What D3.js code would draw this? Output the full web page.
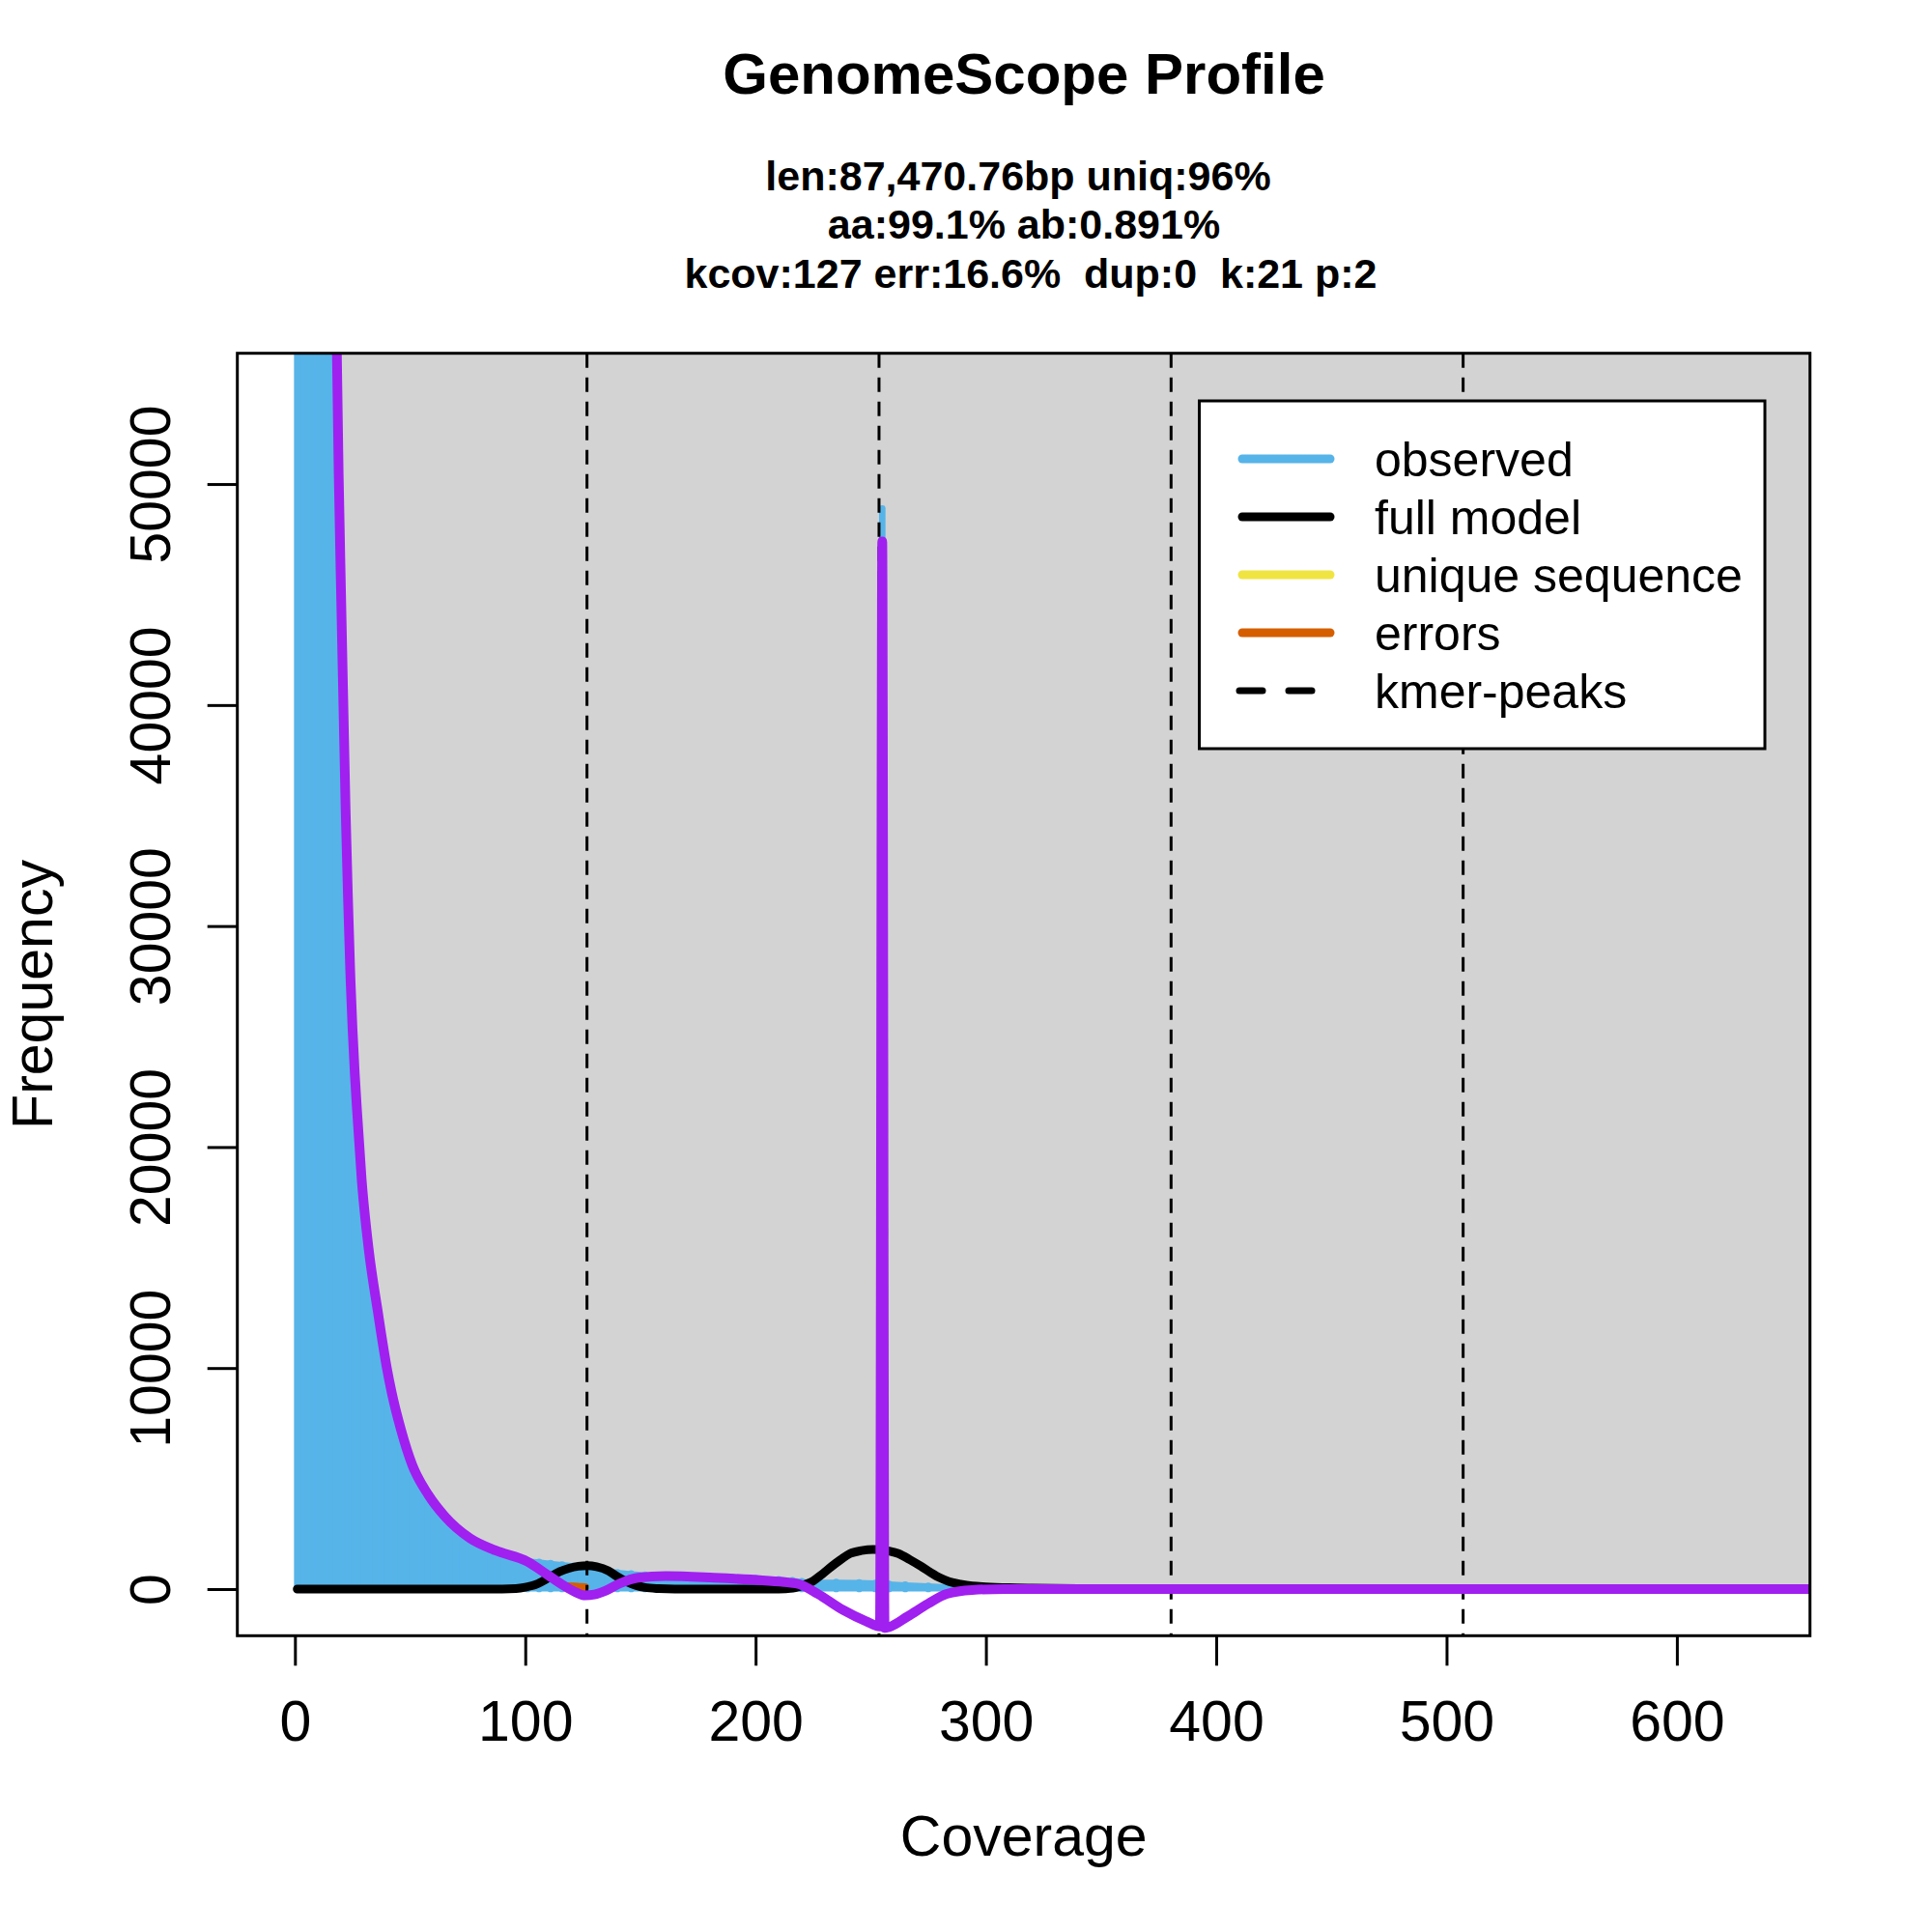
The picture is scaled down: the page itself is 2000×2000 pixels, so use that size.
<!DOCTYPE html>
<html>
<head>
<meta charset="utf-8">
<script src="https://cdnjs.cloudflare.com/ajax/libs/d3/7.8.5/d3.min.js"></script>
<style>
body { margin: 0; background: #ffffff; }
svg text { font-family: "Liberation Sans", Arial, sans-serif; }
</style>
</head>
<body>
<div id="profile_div"></div>
<script>

// observed k-mer histogram (coverage, frequency)
var obsCov = [1, 5, 10, 15, 17, 18, 19, 20, 21, 22, 24, 26, 28, 30, 32, 35, 38, 40, 43, 46, 51, 55, 60, 65, 70, 76, 82, 88, 95,
              101, 106, 111, 116, 121, 127, 133, 140, 146, 152, 160, 170, 180, 190, 200, 210, 216, 220, 225, 235, 245, 252,
              254, 255, 256, 258, 265, 275, 285, 295, 305, 320];
var obsVal = [250000, 150000, 100000, 70000, 62000, 57500, 51000, 45300, 40000, 35200, 28000, 23300, 20300, 17600, 15400, 12900, 11000, 9950, 8500, 7230, 5600, 4750, 3950, 3300, 2800, 2300, 2000, 1750, 1450,
              1280, 1230, 1170, 1110, 1060, 1000, 900, 760, 700, 650, 610, 590, 570, 540, 500, 440, 400, 350, 330, 320, 300, 280,
              270, 48900, 260, 240, 200, 150, 100, 60, 30, 10];

// full model
var modelCov = [1, 90, 96, 100, 105, 110, 115, 119, 123, 127, 131, 136, 140, 144, 148, 152, 158, 165, 210, 216, 220, 225, 229,
                233, 237, 241, 246, 251, 255, 258, 262, 267, 272, 276, 280, 284, 289, 294, 300, 310, 320, 340, 400, 660];
var modelVal = [0, 0, 20, 80, 220, 500, 790, 940, 1030, 1060, 1010, 830, 560, 330, 170, 70, 20, 0, 0, 40, 150, 365, 680,
                1020, 1330, 1605, 1740, 1790, 1780, 1720, 1605, 1330, 1020, 750, 510, 340, 220, 140, 100, 60, 40, 20, 5, 0];

// errors (only a small piece is visible)
var errCov = [118, 121, 124, 126];
var errVal = [130, 120, 100, 90];

// purple residual line
var residCov = [15, 17, 18, 19, 20, 21, 22, 23, 24, 26, 27, 29, 32, 36, 40, 42, 46, 51, 58, 65, 76, 87, 101, 110, 118, 122,
                126, 130, 135, 141, 149, 161, 182, 203, 214, 219, 227, 238, 248, 254, 255, 256, 258, 266, 275, 283, 294,
                308, 400, 500, 600, 660];
var residVal = [90000, 64500, 57500, 50450, 45200, 40200, 35300, 31400, 28000, 23300, 21600, 18500, 15400, 12550, 9950, 8900,
                7230, 5600, 4250, 3300, 2300, 1750, 1240, 620, 75, -150, -290, -250, -70, 250, 510, 584, 510, 394, 300, 219,
                -219, -950, -1460, -1690, 47400, -1760, -1720, -1240, -657, -219, -40, 0, 0, 0, 0, 0];

// kmer peaks
var peakCov = [126.8, 253.6, 380.4, 507.2];

var xTicks = [0, 100, 200, 300, 400, 500, 600];
var yTicks = [0, 10000, 20000, 30000, 40000, 50000];

var titleText = "GenomeScope Profile";
var subLines = ["len:87,470.76bp uniq:96%", "aa:99.1% ab:0.891%", "kcov:127 err:16.6%  dup:0  k:21 p:2"];

var legendNames = ["observed", "full model", "unique sequence", "errors", "kmer-peaks"];
var legendColors = ["#56B4E9", "#000000", "#F0E442", "#D55E00", "#000000"];


function ProfilePlot() {
    var self = this;
    self.div = d3.select("#profile_div");
    self.init();
};

ProfilePlot.prototype.init = function(){
    var self = this;

    self.svg = self.div.append("svg").attr("width", 2000).attr("height", 2000);
    self.svg.append("rect").attr("width", 2000).attr("height", 2000).attr("fill", "white");

    self.x = d3.scaleLinear().domain([-25, 657.8]).range([245.7, 1873.7]);
    self.y = d3.scaleLinear().domain([-2112, 55917]).range([1693.3, 365.7]);

    self.drawPlot();
    self.drawAxes();
    self.drawLegend();
    self.drawText();
}

ProfilePlot.prototype.drawPlot = function(){
    var self = this;
    var x = self.x, y = self.y;

    self.svg.append("clipPath").attr("id", "plotclip")
        .append("rect")
        .attr("x", x.range()[0]).attr("y", y.range()[1])
        .attr("width", x.range()[1] - x.range()[0])
        .attr("height", y.range()[0] - y.range()[1]);

    var g = self.svg.append("g").attr("clip-path", "url(#plotclip)");

    // grey background
    g.append("rect")
        .attr("x", x(0)).attr("y", y.range()[1])
        .attr("width", x.range()[1] - x(0))
        .attr("height", y(0) - y.range()[1])
        .attr("fill", "#D3D3D3");

    var obs = obsCov.map(function(c, i){ return [c, obsVal[i]]; });
    var area = d3.area().x(function(d){ return x(d[0]); }).y0(y(0)).y1(function(d){ return y(d[1]); });
    g.append("path").datum(obs)
        .attr("d", area)
        .attr("fill", "#56B4E9")
        .attr("stroke", "#56B4E9")
        .attr("stroke-width", 5)
        .attr("stroke-linejoin", "round");
    g.selectAll(".obsbar").data(obs).enter()
        .append("line")
        .attr("class", "obsbar")
        .attr("x1", function(d){ return x(d[0]); })
        .attr("x2", function(d){ return x(d[0]); })
        .attr("y1", y(0))
        .attr("y2", function(d){ return y(d[1]); })
        .attr("stroke", "#56B4E9")
        .attr("stroke-width", 6.7)
        .attr("stroke-linecap", "round");

    var line = d3.line()
        .x(function(d){ return x(d[0]); })
        .y(function(d){ return y(d[1]); })
        .curve(d3.curveMonotoneX);

    g.append("path")
        .datum(errCov.map(function(c, i){ return [c, errVal[i]]; }))
        .attr("d", line)
        .attr("fill", "none").attr("stroke", "#D55E00")
        .attr("stroke-width", 8).attr("stroke-linecap", "round");

    g.append("path")
        .datum(modelCov.map(function(c, i){ return [c, modelVal[i]]; }))
        .attr("d", line)
        .attr("fill", "none").attr("stroke", "black")
        .attr("stroke-width", 9)
        .attr("stroke-linecap", "round").attr("stroke-linejoin", "round");

    g.selectAll(".peak").data(peakCov).enter()
        .append("line")
        .attr("class", "peak")
        .attr("x1", function(d){ return x(d); })
        .attr("x2", function(d){ return x(d); })
        .attr("y1", y.range()[1])
        .attr("y2", y.range()[0])
        .attr("stroke", "black")
        .attr("stroke-width", 3)
        .attr("stroke-dasharray", "15,10");

    g.append("path")
        .datum(residCov.map(function(c, i){ return [c, residVal[i]]; }))
        .attr("d", line)
        .attr("fill", "none").attr("stroke", "#A020F0")
        .attr("stroke-width", 10)
        .attr("stroke-linecap", "round").attr("stroke-linejoin", "round");
};

ProfilePlot.prototype.drawAxes = function(){
    var self = this;
    var x = self.x, y = self.y;

    var xa = self.svg.append("g")
        .attr("transform", "translate(0," + y.range()[0] + ")")
        .call(d3.axisBottom(x).tickValues(xTicks).tickSize(31).tickFormat(d3.format("d")));
    xa.select(".domain").remove();
    xa.selectAll(".tick line").attr("stroke", "black").attr("stroke-width", 3);
    xa.selectAll(".tick text")
        .attr("y", 108.4).attr("dy", null)
        .attr("font-size", 59).attr("font-family", "Liberation Sans, Arial, sans-serif")
        .attr("fill", "black");

    var ya = self.svg.append("g")
        .attr("transform", "translate(" + x.range()[0] + ",0)")
        .call(d3.axisLeft(y).tickValues(yTicks).tickSize(31).tickFormat(d3.format("d")));
    ya.select(".domain").remove();
    ya.selectAll(".tick line").attr("stroke", "black").attr("stroke-width", 3);
    ya.selectAll(".tick text")
        .attr("x", 0).attr("y", 0).attr("dy", null)
        .attr("transform", "translate(-70,0) rotate(-90)")
        .attr("text-anchor", "middle")
        .attr("font-size", 59).attr("font-family", "Liberation Sans, Arial, sans-serif")
        .attr("fill", "black");

    // box
    self.svg.append("rect")
        .attr("x", x.range()[0]).attr("y", y.range()[1])
        .attr("width", x.range()[1] - x.range()[0])
        .attr("height", y.range()[0] - y.range()[1])
        .attr("fill", "none").attr("stroke", "black").attr("stroke-width", 3);

    self.svg.append("text")
        .attr("x", 1059.7).attr("y", 1921)
        .attr("text-anchor", "middle").attr("font-size", 59)
        .text("Coverage");
    self.svg.append("text")
        .attr("transform", "translate(54,1029.5) rotate(-90)")
        .attr("text-anchor", "middle").attr("font-size", 59)
        .text("Frequency");
};

ProfilePlot.prototype.drawLegend = function(){
    var self = this;
    var lg = self.svg.append("g");

    lg.append("rect")
        .attr("x", 1241.5).attr("y", 415).attr("width", 585.5).attr("height", 360)
        .attr("fill", "white").attr("stroke", "black").attr("stroke-width", 3);

    var rows = lg.selectAll(".lrow").data(legendNames).enter()
        .append("g").attr("class", "lrow")
        .attr("transform", function(d, i){ return "translate(0," + (475 + i * 60) + ")"; });

    rows.append("line")
        .attr("x1", 1286).attr("x2", function(d, i){ return i == 4 ? 1379 : 1377; })
        .attr("y1", 0).attr("y2", 0)
        .attr("stroke", function(d, i){ return legendColors[i]; })
        .attr("stroke-width", function(d, i){ return i == 4 ? 7 : 9; })
        .attr("stroke-linecap", "round")
        .attr("stroke-dasharray", function(d, i){ return i == 4 ? "24,27" : null; })
        .attr("transform", function(d, i){ return i == 4 ? "translate(-3,0)" : null; });

    rows.append("text")
        .attr("x", 1423).attr("y", 0).attr("dy", "0.35em")
        .attr("font-size", 50)
        .text(function(d){ return d; });
};

ProfilePlot.prototype.drawText = function(){
    var self = this;

    self.svg.append("text")
        .attr("x", 1060).attr("y", 96.7)
        .attr("text-anchor", "middle").attr("font-size", 60).attr("font-weight", "bold")
        .text(titleText);

    var subX = [1054, 1060, 1067];
    self.svg.selectAll(".sub").data(subLines).enter()
        .append("text").attr("class", "sub")
        .attr("x", function(d, i){ return subX[i]; })
        .attr("y", function(d, i){ return 196.7 + i * 50.7; })
        .attr("text-anchor", "middle").attr("font-size", 43).attr("font-weight", "bold")
        .style("white-space", "pre")
        .text(function(d){ return d; });
};

var plot = new ProfilePlot();
</script>
</body>
</html>
